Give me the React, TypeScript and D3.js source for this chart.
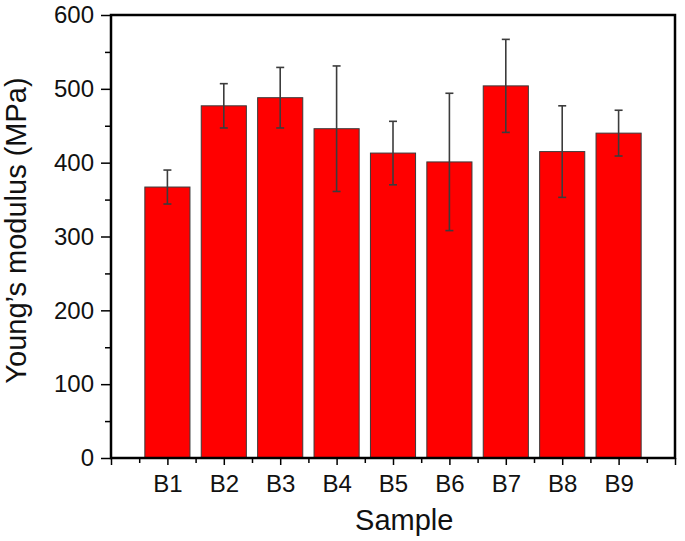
import React, { useEffect, useRef } from "react";
import * as d3 from "d3";

// sample names, mean modulus and standard deviation (MPa)
const samples = ["B1", "B2", "B3", "B4", "B5", "B6", "B7", "B8", "B9"];
const modulus = [367, 477, 488, 446, 413, 401, 504, 415, 440];
const stdDev = [23, 30, 41, 85, 43, 93, 63, 62, 31];
const yTicks = [0, 100, 200, 300, 400, 500, 600];

const W = 685;
const H = 541;

export default function App() {
  const ref = useRef<SVGSVGElement>(null);

  useEffect(() => {
    const svg = d3.select(ref.current);
    svg.selectAll("*").remove();

    const margin = { top: 15, right: 10, bottom: 83, left: 111 };
    const font = "'Liberation Sans', Arial, sans-serif";

    // x positions: B1 at 1 ... B9 at 9, axis from 0 to 10
    const x = d3.scaleLinear().domain([0, 10]).range([margin.left, W - margin.right]);
    const y = d3.scaleLinear().domain([0, 600]).range([H - margin.bottom, margin.top]);
    const barW = x(0.8) - x(0);

    const data = samples.map((s, i) => ({ s, pos: i + 1, v: modulus[i], e: stdDev[i] }));

    // bars
    svg
      .append("g")
      .selectAll("rect")
      .data(data)
      .join("rect")
      .attr("x", (d) => x(d.pos) - barW / 2)
      .attr("y", (d) => y(d.v))
      .attr("width", barW)
      .attr("height", (d) => y(0) - y(d.v))
      .attr("fill", "#ff0000")
      .attr("stroke", "#3a3a3a")
      .attr("stroke-width", 1);

    // error bars
    const eb = svg.append("g").attr("stroke", "#3c3c3c").attr("stroke-width", 1.6);
    data.forEach((d) => {
      const cx = x(d.pos);
      eb.append("line").attr("x1", cx).attr("x2", cx).attr("y1", y(d.v + d.e)).attr("y2", y(d.v - d.e));
      [d.v + d.e, d.v - d.e].forEach((v) => {
        eb.append("line").attr("x1", cx - 4).attr("x2", cx + 4).attr("y1", y(v)).attr("y2", y(v));
      });
    });

    // minor ticks
    const gxMinor = svg
      .append("g")
      .attr("transform", `translate(0,${y(0)})`)
      .call(
        d3.axisBottom(x).tickValues(d3.range(0.5, 10, 1)).tickSize(5).tickFormat(() => "")
      );
    const gyMinor = svg
      .append("g")
      .attr("transform", `translate(${x(0)},0)`)
      .call(d3.axisLeft(y).tickValues(d3.range(50, 600, 100)).tickSize(6).tickFormat(() => ""));

    // major ticks
    const gx = svg
      .append("g")
      .attr("transform", `translate(0,${y(0)})`)
      .call(
        d3
          .axisBottom(x)
          .tickValues(d3.range(0, 11, 1))
          .tickSize(7)
          .tickPadding(10)
          .tickFormat((d) => samples[+d - 1] ?? "")
      );
    const gy = svg
      .append("g")
      .attr("transform", `translate(${x(0)},0)`)
      .call(d3.axisLeft(y).tickValues(yTicks).tickSize(10).tickPadding(7));

    [gxMinor, gyMinor, gx, gy].forEach((g) => {
      g.select(".domain").remove();
      g.selectAll(".tick line").attr("stroke", "#000").attr("stroke-width", 1.5);
    });
    gx.selectAll("text").attr("font-family", font).attr("font-size", 24).attr("fill", "#111");
    gy.selectAll("text").attr("font-family", font).attr("font-size", 24).attr("fill", "#111");

    // frame
    svg
      .append("rect")
      .attr("x", x(0))
      .attr("y", y(600))
      .attr("width", x(10) - x(0))
      .attr("height", y(0) - y(600))
      .attr("fill", "none")
      .attr("stroke", "#000")
      .attr("stroke-width", 2.5);

    // axis titles
    svg
      .append("text")
      .attr("x", x(5.2))
      .attr("y", 530)
      .attr("text-anchor", "middle")
      .attr("font-family", font)
      .attr("font-size", 29)
      .attr("fill", "#111")
      .text("Sample");

    svg
      .append("text")
      .attr("transform", `translate(26,${(y(0) + y(600)) / 2 - 6}) rotate(-90)`)
      .attr("text-anchor", "middle")
      .attr("font-family", font)
      .attr("font-size", 29)
      .attr("fill", "#111")
      .text("Young\u2019s modulus (MPa)");
  }, []);

  return (
    <div style={{ position: "absolute", left: 0, top: 0, background: "#fff" }}>
      <svg ref={ref} width={W} height={H} style={{ display: "block" }}></svg>
    </div>
  );
}
